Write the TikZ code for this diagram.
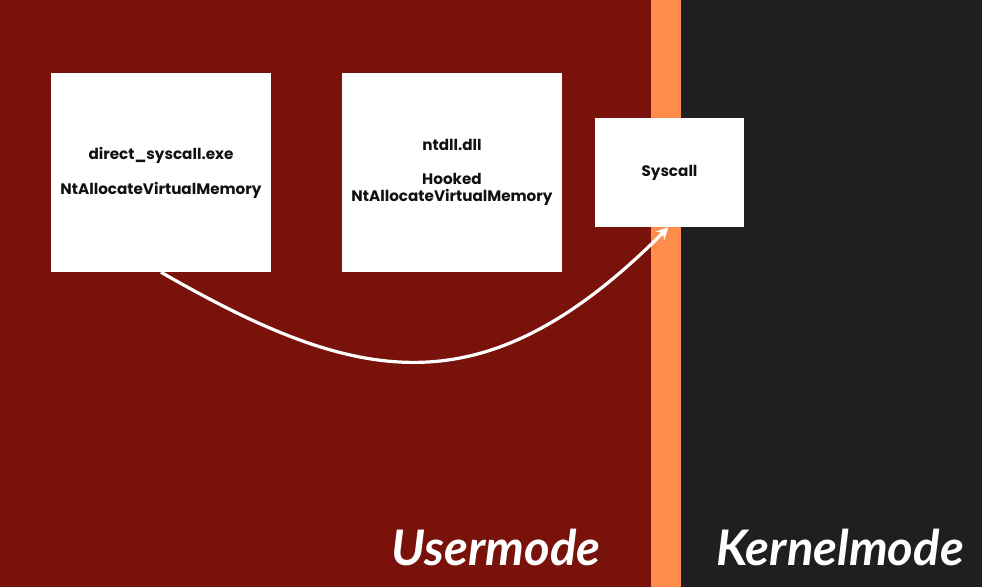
\documentclass[tikz,border=0pt]{standalone}
\usepackage{fontspec}
\setmainfont{Poppins}
\newfontfamily\modefont{Lato}
\usetikzlibrary{arrows.meta}
\definecolor{userred}{HTML}{78120B}
\definecolor{strip}{HTML}{FF8C4B}
\definecolor{kernel}{HTML}{201F20}
\definecolor{ink}{HTML}{111111}
\begin{document}
\begin{tikzpicture}[x=1pt,y=-1pt,
  box/.style={fill=white, draw=none, inner sep=0pt, align=center, font=\fontsize{15.2}{18}\selectfont\bfseries, text=ink},
  modelabel/.style={text=white, font=\modefont\fontsize{49}{52}\selectfont\bfseries\itshape, inner sep=0pt, anchor=base},
  flow/.style={draw=white, line width=3.2pt, -{Stealth[length=12pt,width=12pt]}}]
\useasboundingbox (0,0) rectangle (982,587);
\fill[userred] (0,0) rectangle (651,587);
\fill[strip] (651,0) rectangle (681,587);
\fill[kernel] (681,0) rectangle (982,587);
\node[box, minimum width=220pt, minimum height=199pt] (box1) at (161,172.5) {};
\node[text=ink, font=\fontsize{15.2}{18}\selectfont\bfseries] (t1a) at (161,155) {direct\_syscall.exe};
\node[text=ink, font=\fontsize{15.2}{18}\selectfont\bfseries] (t1b) at (161,190) {NtAllocateVirtualMemory};
\node[box, minimum width=220pt, minimum height=199pt] (box2) at (452,172.5) {};
\node[text=ink, font=\fontsize{15.2}{18}\selectfont\bfseries] (t2a) at (452,145) {ntdll.dll};
\node[text=ink, align=center, font=\fontsize{15.2}{16.5}\selectfont\bfseries] (t2b) at (452,189.5) {Hooked\\NtAllocateVirtualMemory};
\node[box, minimum width=149pt, minimum height=109pt] (sys) at (669.5,172.5) {};
\node[text=ink, font=\fontsize{15.2}{18}\selectfont\bfseries] (t3) at (669.5,173) {Syscall};
\node[modelabel] (um) at (496,565) {Usermode};
\node[modelabel] (km) at (840,565) {Kernelmode};
\draw[flow] (box1.south) .. controls (359,386) and (484,412) .. ([xshift=-1pt]sys.south);
\end{tikzpicture}
\end{document}
